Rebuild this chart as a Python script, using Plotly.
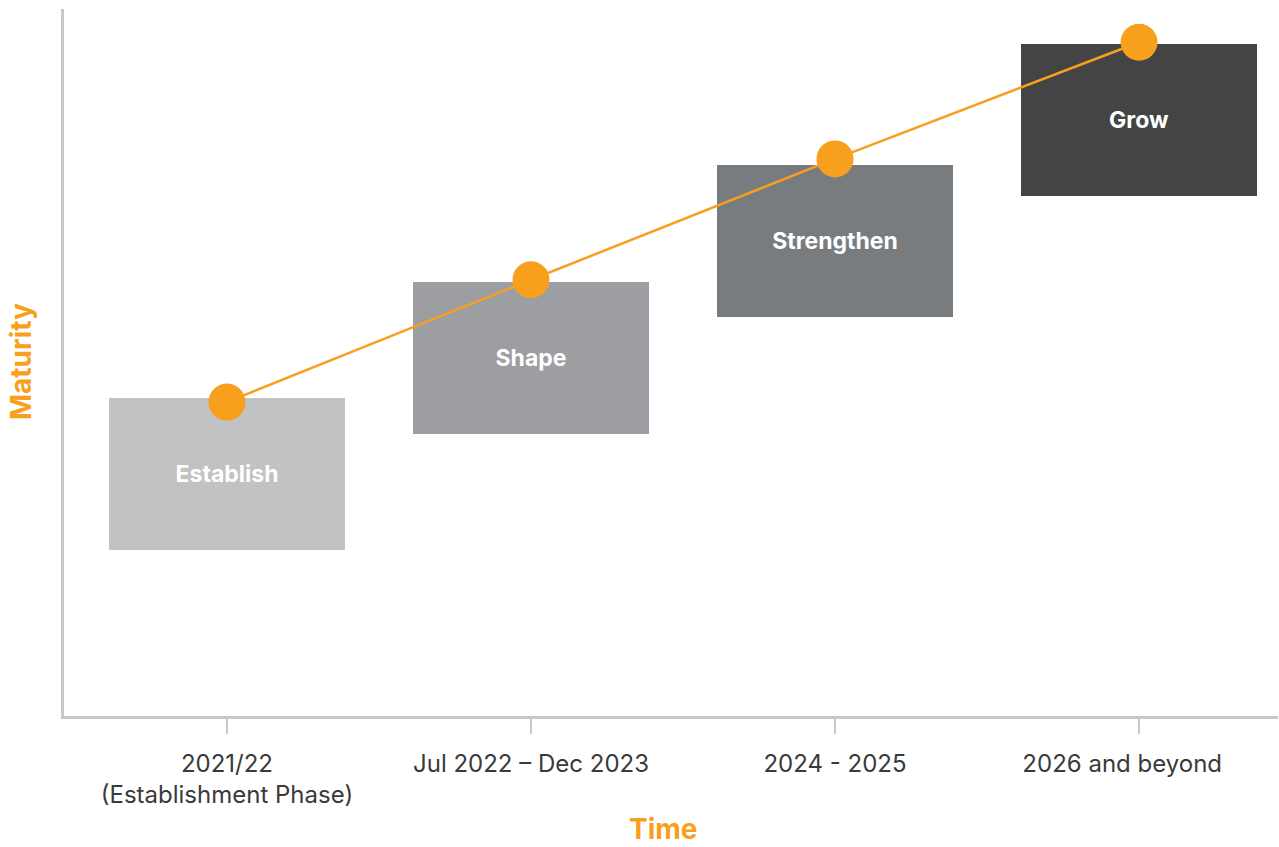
import plotly.graph_objects as go

# ---- data ----
phases = ["Establish", "Shape", "Strengthen", "Grow"]
tick_labels = ["2021/22<br>(Establishment Phase)", "Jul 2022 \u2013 Dec 2023", "2024 - 2025",
               "2026 and beyond\u00a0\u00a0\u00a0\u00a0\u00a0"]
maturity = [44.4, 61.7, 78.8, 95.3]
box_top = [45.0, 61.4, 77.9, 95.0]
box_bottom = [23.5, 39.9, 56.4, 73.5]
box_colors = ["#c1c2c4", "#9d9ea1", "#797c7f", "#444444"]

ORANGE = "#f89f1e"
AXIS = "#c8c8c8"
FONT = "Inter"

xpos = list(range(len(phases)))

fig = go.Figure()

fig.add_trace(go.Bar(
    x=xpos,
    y=[t - b for t, b in zip(box_top, box_bottom)],
    base=box_bottom,
    width=0.776,
    marker=dict(color=box_colors, line=dict(width=0)),
    text=phases,
    textposition="inside",
    insidetextanchor="middle",
    textangle=0,
    textfont=dict(family=FONT, size=23, color="white", weight="bold"),
    hoverinfo="skip",
    showlegend=False,
))

fig.add_trace(go.Scatter(
    x=xpos,
    y=maturity,
    mode="lines+markers",
    line=dict(color=ORANGE, width=2.5),
    marker=dict(color=ORANGE, size=37, line=dict(width=0)),
    hoverinfo="skip",
    showlegend=False,
))

fig.update_layout(
    width=1279,
    height=847,
    margin=dict(l=64, r=1, t=9, b=131),
    paper_bgcolor="white",
    plot_bgcolor="white",
    bargap=0,
    xaxis=dict(
        range=[-0.536, 3.457],
        tickmode="array",
        tickvals=xpos,
        ticktext=tick_labels,
        ticks="outside",
        ticklen=15,
        tickwidth=2,
        tickcolor=AXIS,
        ticklabelstandoff=9,
        showline=True,
        linecolor=AXIS,
        linewidth=2.5,
        showgrid=False,
        zeroline=False,
        tickfont=dict(family=FONT, size=24, color="#3a3a3a"),
        fixedrange=True,
    ),
    yaxis=dict(
        range=[0, 100],
        showticklabels=False,
        ticks="",
        showline=True,
        linecolor=AXIS,
        linewidth=2.5,
        showgrid=False,
        zeroline=False,
        fixedrange=True,
    ),
    annotations=[
        dict(text="Time", xref="paper", yref="paper", x=(663 - 64) / 1214, y=-(829 - 716) / 707,
             showarrow=False, xanchor="center", yanchor="middle",
             font=dict(family=FONT, size=28, color=ORANGE, weight="bold")),
        dict(text="Maturity", xref="paper", yref="paper", x=-(64 - 21) / 1214, y=(716 - 362) / 707,
             showarrow=False, xanchor="center", yanchor="middle", textangle=-90,
             font=dict(family=FONT, size=28, color=ORANGE, weight="bold")),
    ],
)

fig.write_html("out.html")
